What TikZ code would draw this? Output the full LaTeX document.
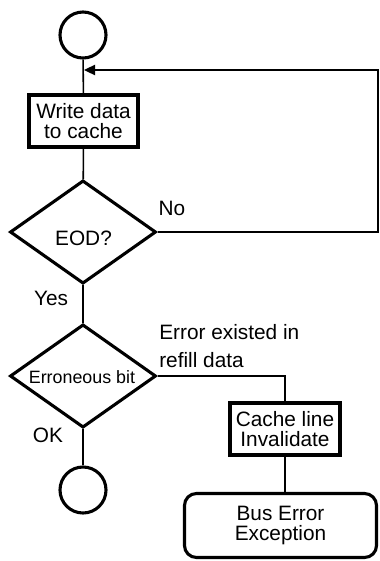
\documentclass[tikz,border=0pt]{standalone}
\usepackage{fontspec}
\setmainfont{Liberation Sans}
\usetikzlibrary{shapes.geometric, arrows.meta, positioning, calc}

\begin{document}
\begin{tikzpicture}[
    x=0.025cm, y=-0.025cm,
    terminal/.style={circle, draw, line width=2.2pt, minimum size=1.15cm, inner sep=0pt},
    process/.style={rectangle, draw, line width=2.8pt, minimum width=2.72cm, minimum height=1.3cm, inner sep=0pt, align=center, font=\fontsize{14.8pt}{14.6pt}\selectfont},
    decision/.style={diamond, draw, line width=2.2pt, minimum width=3.65cm, minimum height=2.58cm, inner sep=0pt},
    exitbox/.style={rectangle, draw, rounded corners=0.3cm, line width=2.2pt, minimum width=4.8cm, minimum height=1.6cm, inner sep=0pt, align=center, font=\fontsize{14.8pt}{14.6pt}\selectfont},
    lbl/.style={anchor=base, inner sep=0pt, font=\fontsize{14.8pt}{14.6pt}\selectfont},
    line/.style={line width=1.1pt},
    arrow/.style={-{Triangle[length=2.8mm, width=2.6mm]}, line width=1.1pt},
]
    \useasboundingbox (0,0) rectangle (380,561);

    \node[terminal] (start) at (83,35) {};
    \node[process] (write) at (83.5,121) {Write data\\to cache};
    \node[decision] (eod) at (83,232) {};
    \node[lbl] (eodtxt) at (83.5,245) {EOD?};
    \node[decision] (err) at (83,376) {};
    \node[lbl, font=\fontsize{12.7pt}{14pt}\selectfont] (errtxt) at (82,383) {Erroneous bit};
    \node[terminal] (stop) at (83,490) {};
    \node[process, minimum width=2.75cm] (inval) at (285,429) {Cache line\\Invalidate};
    \node[exitbox] (bus) at (280.5,525.5) {Bus Error\\Exception};

    % labels
    \node[lbl] (no) at (172,215) {No};
    \node[lbl] (yes) at (51,305) {Yes};
    \node[lbl] (ok) at (48,442.5) {OK};
    \node[lbl, anchor=base west, align=left, font=\fontsize{14.8pt}{20pt}\selectfont] (cause) at (159,367.5) {Error existed in\\refill data};

    % connectors
    \coordinate (merge) at (84,70);
    \coordinate (corner) at (378,70);
    \draw[line] (start) -- (write);
    \draw[line] (write) -- (eod);
    \draw[arrow] (eod.east) -| (corner) -- (merge);
    \draw[line] (eod) -- (err);
    \draw[line] (err) -- (stop);
    \draw[line] (err.east) -| (inval.north);
    \draw[line] (inval.south) -- (inval.south |- bus.north);
\end{tikzpicture}
\end{document}
